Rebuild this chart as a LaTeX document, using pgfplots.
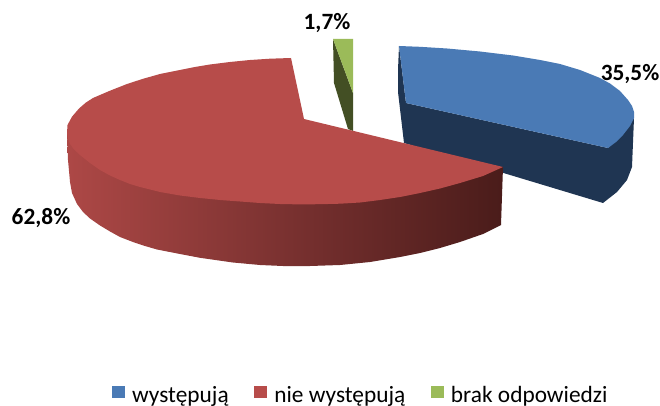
\documentclass[border=0pt]{standalone}
\usepackage{pgfplots}
\pgfplotsset{compat=1.18}
\usepackage{fontspec}
\setmainfont{Carlito}
\definecolor{bluetop}{HTML}{4A7AB5}
\definecolor{blueside}{HTML}{1F3552}
\definecolor{redtop}{HTML}{B74C4A}
\definecolor{greentop}{HTML}{9BBB59}
\definecolor{greenside}{HTML}{434F24}
\definecolor{redA}{HTML}{AD4846}
\definecolor{redB}{HTML}{6E2C2B}
\definecolor{redC}{HTML}{4A1C1A}
\pgfdeclarehorizontalshading{redside}{100bp}{color(0bp)=(redA);color(25bp)=(redA);color(56bp)=(redB);color(75bp)=(redC);color(100bp)=(redC)}
\begin{document}
\begin{tikzpicture}
\begin{axis}[
  at={(0pt,0pt)}, anchor=south west,
  scale only axis, width=495pt, height=304.5pt,
  xmin=0, xmax=660, ymin=0, ymax=406, y dir=reverse,
  hide axis, clip=false,
  legend columns=3,
  legend style={draw=none, fill=none, at={(axis cs:361,395)}, anchor=center, font=\fontsize{17.5}{20}\selectfont,
    /tikz/every even column/.append style={column sep=17pt},
    /tikz/every odd column/.append style={column sep=3.5pt}},
  legend image code/.code={\fill[#1] (0pt,-2.2pt) rectangle (9.75pt,6.8pt);},
]
% blue, 35.5 %
\addplot[draw=none, fill=blueside, forget plot] coordinates {(399,46)(398,70)(398,92)(404,143)(603,203)(617,192)(627,180)(632,167)(634,118)(608,148)(406,103)} -- cycle;
\addplot[draw=none, fill=bluetop] coordinates {(399,46)(420,46.8)(447,48.5)(480,51.5)(513,55.5)(540,60)(560,64)(580,70)(600,78)(610,83.5)(620,91)(628,100)(632,106)(634,112)(634,118)(630,126)(623,135)(616,142)(608,148)(406,103)} -- cycle;
\addlegendentry{występują}
% green, 1.7 %
\addplot[draw=none, fill=greenside, forget plot] coordinates {(333,39)(334,83)(348,129)(353,131)(353,93)} -- cycle;
\addplot[draw=none, fill=greentop, forget plot] coordinates {(333,39)(353,39)(353,93)} -- cycle;
% red, 62.8 %
\addplot[draw=none, shade, shading=redside, forget plot] coordinates {(67,133)(68,160)(70,182)(72,193)(77,204)(83,212)(90,218.5)(100,225.5)(110,231.5)(120,237)(133,242)(145,246)(157,249.5)(180,254)(200,257.8)(233,262.5)(260,265)(283,266)(310,266)(340,265)(370,262)(400,257)(420,253)(440,248)(460,242)(483,234)(501,225)(503,167)} -- cycle;
\addplot[draw=none, fill=redtop] coordinates {(291,58)(304,119)(503,167)(483,176)(460,183)(440,188.5)(420,193)(400,197)(380,200)(360,202.5)(340,203.7)(320,204.2)(300,204.4)(280,204)(260,203)(240,201.5)(220,200)(200,198)(180,195.5)(160,192)(140,187)(130,184)(120,180)(110,175.5)(100,170)(90,163)(80,155)(74,149.5)(70,144)(68,138.5)(67,133)(67.5,125)(72,116.7)(79,108.5)(86,102.5)(93,98)(110,90.7)(127,84)(143,78.8)(160,74)(180,70)(195,67)(210,64.5)(230,62)(250,60)(270,58.7)} -- cycle;
\addlegendentry{nie występują}
\addlegendimage{fill=greentop, draw=none}
\addlegendentry{brak odpowiedzi}
\node[inner sep=0pt, font=\bfseries\fontsize{17.5}{20}\selectfont] at (axis cs:630,74) {35,5\%};
\node[inner sep=0pt, font=\bfseries\fontsize{17.5}{20}\selectfont] at (axis cs:41,218) {62,8\%};
\node[inner sep=0pt, font=\bfseries\fontsize{17.5}{20}\selectfont] at (axis cs:327,23) {1,7\%};
\end{axis}
\pgfresetboundingbox
\path[use as bounding box] (0pt,0pt) rectangle (495pt,304.5pt);
\end{tikzpicture}
\end{document}
